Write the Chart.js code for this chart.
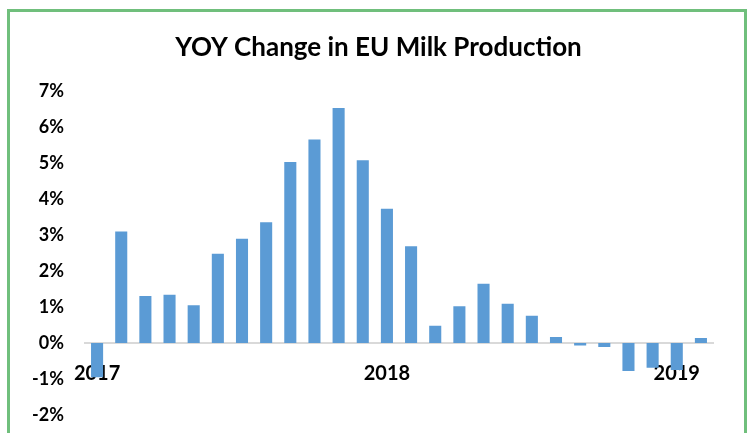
<!DOCTYPE html>
<html>
<head>
<meta charset="utf-8">
<script src="https://cdn.jsdelivr.net/npm/chart.js@4/dist/chart.umd.min.js"></script>
<style>
  body { margin: 0; background: #fff; overflow: hidden; }
  .frame {
    position: absolute; left: 7px; top: 9px; width: 740px; height: 460px;
    box-sizing: border-box; border: 3px solid #70bf7c;
  }
  .wrap { position: absolute; left: 0; top: 0; width: 752px; height: 433px; }
</style>
</head>
<body>
<div class="frame"></div>
<div class="wrap"><canvas id="milk" width="752" height="433"></canvas></div>
<script>
// months Jan 2017 .. Feb 2019
let months = [
  'Jan 2017', 'Feb 2017', 'Mar 2017', 'Apr 2017', 'May 2017', 'Jun 2017',
  'Jul 2017', 'Aug 2017', 'Sep 2017', 'Oct 2017', 'Nov 2017', 'Dec 2017',
  'Jan 2018', 'Feb 2018', 'Mar 2018', 'Apr 2018', 'May 2018', 'Jun 2018',
  'Jul 2018', 'Aug 2018', 'Sep 2018', 'Oct 2018', 'Nov 2018', 'Dec 2018',
  'Jan 2019', 'Feb 2019'
];
// yoy change, percent
let yoyChange = [
  -0.95, 3.10, 1.31, 1.34, 1.05, 2.48, 2.90, 3.36, 5.03, 5.66, 6.53, 5.08,
  3.73, 2.69, 0.48, 1.02, 1.65, 1.09, 0.76, 0.17, -0.07, -0.11, -0.78, -0.69,
  -0.75, 0.14
];
let yTicks = [-2, -1, 0, 1, 2, 3, 4, 5, 6, 7];

let fontFam = 'Lato, "Open Sans", sans-serif';

// title sits a bit right of the canvas centre in the original
const shiftTitle = {
  id: 'shiftTitle',
  afterLayout(chart) {
    if (chart.titleBlock) chart.titleBlock.left = 44;
  },
};

let ctx = document.getElementById('milk').getContext('2d');
const data = {
  labels: months,
  datasets: [
    {
      type: 'bar',
      label: 'YOY Change',
      data: yoyChange,
      backgroundColor: '#5b9bd5',
      borderWidth: 0,
      barPercentage: 0.5,
      categoryPercentage: 1,
    },
  ],
};
const config = {
  data: data,
  plugins: [shiftTitle],
  options: {
    responsive: false,
    animation: false,
    layout: { padding: { left: 25, right: 39, top: 20, bottom: 7 } },
    plugins: {
      legend: { display: false },
      tooltip: { enabled: false },
      title: {
        display: true,
        text: 'YOY Change in EU Milk Production',
        color: '#000',
        font: { family: fontFam, size: 26, weight: 'bold' },
        padding: { top: 12, bottom: 28 },
      },
    },
    scales: {
      x: {
        position: { y: 0 },
        z: 1,
        afterFit: (s) => { s.height = 0; },
        grid: { display: false },
        border: { color: '#d9d9d9', width: 2 },
        ticks: {
          autoSkip: false,
          maxRotation: 0,
          padding: 11,
          color: '#000',
          font: { family: fontFam, size: 20, weight: 'bold' },
          callback: function (v, i) {
            let m = months[i].split(' ');
            return m[0] === 'Jan' ? m[1] : '';
          },
        },
      },
      y: {
        min: yTicks[0],
        max: yTicks[yTicks.length - 1],
        afterFit: (s) => {
          s.width = 60;
          s.paddingTop = 0;
          s.paddingBottom = 18;
        },
        afterBuildTicks: (s) => { s.ticks = yTicks.map((v) => ({ value: v })); },
        grid: { display: false, drawTicks: false },
        border: { display: false },
        ticks: {
          padding: 21,
          color: '#000',
          font: { family: fontFam, size: 18, weight: 'bold' },
          callback: (v) => v + '%',
        },
      },
    },
  },
};
new Chart(ctx, config);
</script>
</body>
</html>
